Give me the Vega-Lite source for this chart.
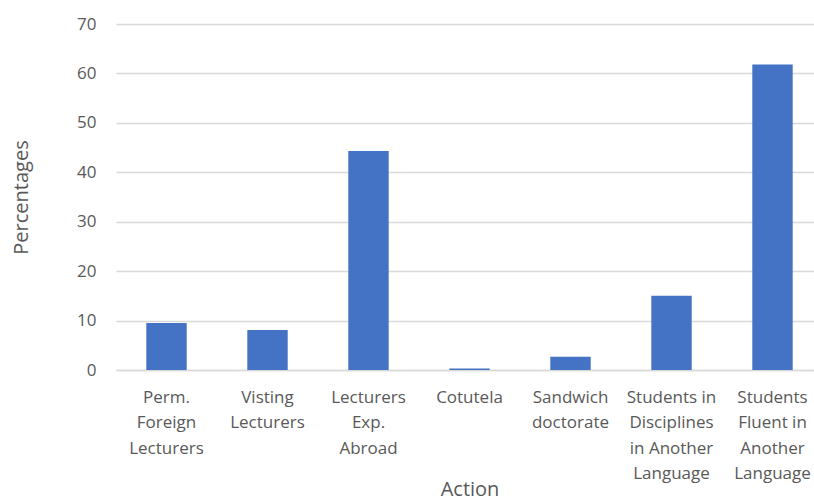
{
  "$schema": "https://vega.github.io/schema/vega-lite/v6.json",
  "width": 707,
  "height": 346,
  "autosize": {"type": "none"},
  "padding": {"left": 116, "top": 24, "right": 0, "bottom": 128},
  "background": "white",
  "config": {
    "font": "Open Sans",
    "view": {"stroke": null},
    "axis": {
      "labelColor": "#595959",
      "titleColor": "#595959",
      "labelFontSize": 17,
      "titleFontSize": 20,
      "titleFontWeight": "normal",
      "domainColor": "#d9d9d9",
      "gridColor": "#d9d9d9",
      "gridWidth": 1.5,
      "ticks": false
    }
  },
  "data": {
    "values": [
      {"action": "Perm.|Foreign|Lecturers", "pct": 9.5},
      {"action": "Visting|Lecturers", "pct": 8.1},
      {"action": "Lecturers|Exp.|Abroad", "pct": 44.3},
      {"action": "Cotutela", "pct": 0.3},
      {"action": "Sandwich|doctorate", "pct": 2.7},
      {"action": "Students in|Disciplines|in Another|Language", "pct": 15.0},
      {"action": "Students|Fluent in|Another|Language", "pct": 61.8}
    ]
  },
  "mark": {"type": "bar", "color": "#4472c4"},
  "encoding": {
    "x": {
      "field": "action",
      "type": "nominal",
      "sort": null,
      "title": "Action",
      "scale": {"paddingInner": 0.6, "paddingOuter": 0.3},
      "axis": {
        "labelAngle": 0,
        "labelExpr": "split(datum.label, '|')",
        "labelLineHeight": 25.5,
        "labelPadding": 19,
        "labelBaseline": "top",
        "domainWidth": 1.5,
        "titlePadding": -2
      }
    },
    "y": {
      "field": "pct",
      "type": "quantitative",
      "title": "Percentages",
      "scale": {"domain": [0, 70]},
      "axis": {
        "values": [0, 10, 20, 30, 40, 50, 60, 70],
        "domain": false,
        "labelPadding": 20,
        "titlePadding": 45
      }
    }
  }
}
